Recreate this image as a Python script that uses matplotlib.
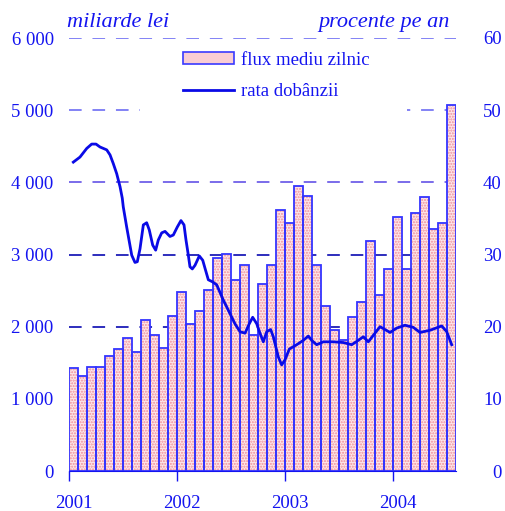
import numpy as np
import matplotlib
matplotlib.use('Agg')
import matplotlib.pyplot as plt
import matplotlib.transforms as mtransforms
from matplotlib.patches import Patch, Rectangle
from matplotlib.lines import Line2D

# monthly average daily flow, Jan 2001 - Jul 2004 (miliarde lei)
flux = [1422, 1311, 1436, 1436, 1588, 1686, 1838, 1644, 2087, 1884, 1699, 2147,
        2475, 2032, 2212, 2502, 2946, 3010, 2641, 2858, 1884, 2590, 2858, 3611,
        3435, 3947, 3804, 2858, 2281, 1953, 1814, 2129, 2345, 3181, 2433, 2793,
        3513, 2793, 3569, 3790, 3347, 3435, 5069]

# interest rate, time in months since Jan 2001 (procente pe an)
rata_t = [0.48, 1.22, 1.97, 2.52, 3.0, 3.44, 4.19, 4.56, 4.92, 5.3, 5.67, 5.92,
          6.03, 6.41, 6.97, 7.33, 7.59, 7.89, 8.26, 8.63, 8.92, 9.3, 9.63, 9.92,
          10.3, 10.67, 11.22, 11.59, 12.03, 12.44, 12.78, 13.0, 13.26, 13.44, 13.7,
          14.0, 14.48, 14.86, 15.11, 15.48, 15.97, 16.41, 17.14, 17.89, 18.44,
          19.0, 19.56, 20.03, 20.41, 20.86, 21.22, 21.59, 21.97, 22.41, 22.7,
          23.26, 23.63, 24.0, 24.48, 25.3, 26.03, 26.59, 26.97, 27.52, 28.26,
          29.37, 30.48, 31.41, 32.14, 32.7, 33.26, 33.81, 34.56, 35.11, 35.67,
          36.41, 37.33, 38.26, 39.0, 40.11, 41.41, 41.97, 42.52]
rata = [42.8, 43.5, 44.7, 45.3, 45.3, 44.9, 44.5, 43.8, 42.6, 41.2, 39.4, 37.8,
        36.6, 33.8, 29.9, 28.9, 29.0, 30.8, 34.1, 34.4, 33.4, 31.3, 30.6, 32.0,
        33.0, 33.2, 32.5, 32.7, 33.8, 34.7, 34.1, 32.0, 29.9, 28.3, 28.0,
        28.5, 29.8, 29.2, 28.1, 26.5, 26.2, 25.8, 23.7, 21.8, 20.4,
        19.3, 19.1, 20.4, 21.3, 20.4, 19.1, 17.9, 19.3, 19.6, 18.6,
        15.8, 14.7, 15.4, 16.9, 17.5, 18.1, 18.7, 18.1, 17.5, 17.9,
        17.9, 17.8, 17.5, 18.1, 18.6, 17.9, 18.8, 20.0, 19.6, 19.2,
        19.8, 20.2, 19.9, 19.2, 19.5, 20.1, 19.3, 17.5]

years = ['2001', '2002', '2003', '2004']
left_ticks = [0, 1000, 2000, 3000, 4000, 5000, 6000]
right_ticks = [0, 10, 20, 30, 40, 50, 60]

blue = '#1414f0'
plt.rcParams['font.family'] = ['Liberation Serif', 'DejaVu Serif']

fig = plt.figure(figsize=(5.05, 5.11), dpi=100)
ax = fig.add_axes([69/505, 40/511, 387/505, 433/511])

months = np.arange(len(flux))
ax.bar(months, flux, width=1, align='edge', facecolor='#fde6e9',
       edgecolor='#f08c98', hatch='......', linewidth=0, zorder=2)
ax.bar(months, flux, width=1, align='edge', fill=False,
       edgecolor='#3434ff', linewidth=1.3, zorder=3)

ax.set_xlim(0, len(flux))
ax.set_ylim(0, 6000)
ax.set_yticks(left_ticks)
ax.set_yticklabels(['0', '1 000', '2 000', '3 000', '4 000', '5 000', '6 000'])
ax.set_xticks([0, 12, 24, 36])
ax.set_xticklabels(years)
ax.tick_params(axis='y', length=0, pad=11, labelsize=13.5, labelcolor=blue)
ax.tick_params(axis='x', length=7, width=1, color=blue, pad=10,
               labelsize=13.5, labelcolor=blue, direction='out')
shift = mtransforms.ScaledTranslation(0.05, 0, fig.dpi_scale_trans)
for lab in ax.get_xticklabels():
    lab.set_transform(lab.get_transform() + shift)
for s in ['top', 'right', 'left']:
    ax.spines[s].set_visible(False)
ax.spines['bottom'].set_color(blue)
ax.spines['bottom'].set_zorder(4)

# dashed gridlines
grid_colors = {2000: '#1c1cb8', 3000: '#1c1cb8', 4000: '#7060e8',
               5000: '#7878f4', 6000: '#7878f4'}
for v, c in grid_colors.items():
    ax.axhline(v, color=c, linewidth=1.3, dashes=(7, 6), zorder=1)

# white area behind legend
ax.add_patch(Rectangle(((140-69)/387, (471-120)/433), (407-140)/387, 70/433,
                       transform=ax.transAxes, facecolor='white',
                       edgecolor='none', zorder=1.5))

ax2 = ax.twinx()
ax2.set_ylim(0, 60)
ax2.set_yticks(right_ticks)
ax2.tick_params(axis='y', length=0, pad=33, labelsize=13.5, labelcolor=blue)
for lab in ax2.get_yticklabels():
    lab.set_horizontalalignment('right')
for s in ax2.spines.values():
    s.set_visible(False)
ax2.plot(rata_t, rata, color='#0a0ae6', linewidth=2.0, zorder=5,
         solid_joinstyle='round')

fig.text(67/505, 1 - 27/511, 'miliarde lei', style='italic', color=blue,
         fontsize=16, ha='left', va='baseline')
fig.text(450/505, 1 - 27/511, 'procente pe an', style='italic', color=blue,
         fontsize=16, ha='right', va='baseline')

handles = [Patch(facecolor='#f9cdd3', edgecolor='#3a3aff', linewidth=1.2),
           Line2D([], [], color='#0a0ae6', linewidth=2.0)]
leg = ax.legend(handles, ['flux mediu zilnic', 'rata dobânzii'],
                loc='upper left', bbox_to_anchor=(183/505, 1 - 52/511),
                bbox_transform=fig.transFigure, frameon=False,
                borderpad=0, borderaxespad=0, handlelength=2.7,
                handleheight=0.6, handletextpad=0.4, labelspacing=0.75,
                fontsize=13.5, labelcolor=blue)
leg.set_zorder(6)

fig.savefig('out.png', dpi=100)
